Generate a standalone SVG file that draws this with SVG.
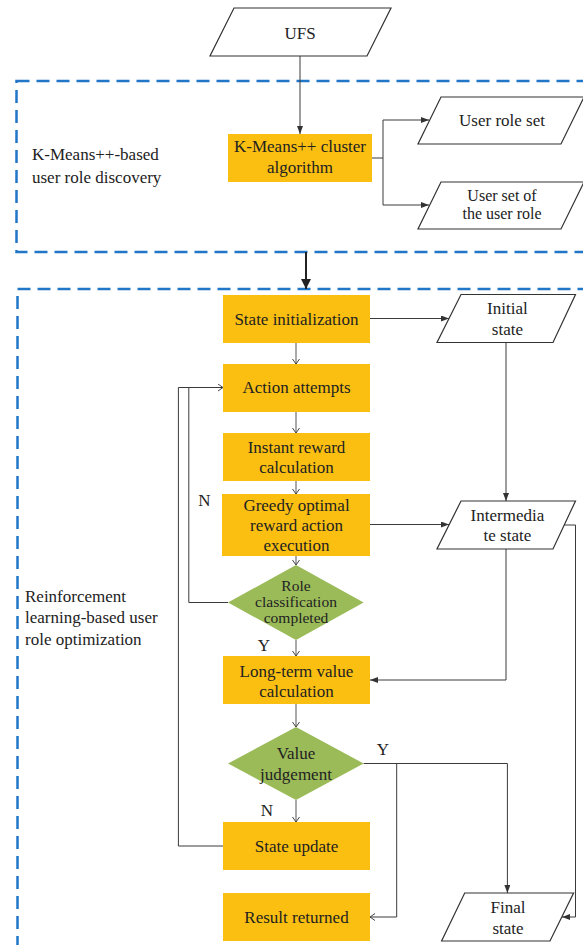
<svg xmlns="http://www.w3.org/2000/svg" width="583" height="945" viewBox="0 0 583 945" font-family="'Liberation Serif', 'DejaVu Serif', serif">
<defs>
<style>
text{font-family:"Liberation Serif","DejaVu Serif",serif;font-size:17px;fill:#222;}
.c{text-anchor:middle;}
.s{font-size:15.5px;}
.m{font-size:16px;}
.box{fill:#FABF10;}
.dia{fill:#9BBB59;}
.para{fill:#fff;stroke:#333;stroke-width:1.2;}
.dash{fill:none;stroke:#2176C7;stroke-width:2.5;stroke-dasharray:13 7;}
.ln{fill:none;stroke:#3a3a3a;stroke-width:1;}
.gl{fill:none;stroke:#707070;stroke-width:1.2;}
</style>
<marker id="fa" viewBox="0 0 8 6" refX="8" refY="3" markerWidth="8" markerHeight="6" orient="auto" markerUnits="userSpaceOnUse"><path d="M0,0 L8,3 L0,6 z" fill="#333"/></marker>
<marker id="oa" viewBox="0 0 6 8" refX="5.5" refY="4" markerWidth="6" markerHeight="8" orient="auto" markerUnits="userSpaceOnUse"><path d="M0.5,0.5 L5.5,4 L0.5,7.5" fill="none" stroke="#444" stroke-width="1"/></marker>
<marker id="big" viewBox="0 0 10 10" refX="10" refY="5" markerWidth="10" markerHeight="10" orient="auto" markerUnits="userSpaceOnUse"><path d="M0,0 L10,5 L0,10 z" fill="#222"/></marker>
</defs>
<rect width="583" height="945" fill="#fff"/>

<g id="group-discovery">
<rect class="dash" x="16.5" y="81" width="600" height="171"/>
<text x="32" y="160">K-Means++-based</text>
<text x="32" y="183">user role discovery</text>
</g>
<g id="group-optimization">
<rect class="dash" x="17.5" y="289" width="600" height="680"/>
<text x="25" y="602">Reinforcement</text>
<text x="25" y="623">learning-based user</text>
<text x="25" y="645">role optimization</text>
</g>

<g id="connectors">
<path class="ln" d="M300,56 V134" marker-end="url(#fa)"/>
<path class="ln" d="M372,158 H383 V120 H429" marker-end="url(#fa)"/>
<path class="ln" d="M383,158 V205 H429" marker-end="url(#fa)"/>
<path d="M306,252 V289" fill="none" stroke="#222" stroke-width="2" marker-end="url(#big)"/>
<path class="ln" d="M370,318.5 H449" marker-end="url(#fa)"/>
<path class="gl" d="M296,343 V364" marker-end="url(#oa)"/>
<path class="gl" d="M296,412 V433" marker-end="url(#oa)"/>
<path class="gl" d="M296,481 V494" marker-end="url(#oa)"/>
<path class="gl" d="M296,556 V565" marker-end="url(#oa)"/>
<path class="gl" d="M296,640 V656" marker-end="url(#oa)"/>
<path class="gl" d="M296,704 V727" marker-end="url(#oa)"/>
<path class="gl" d="M296,800 V822" marker-end="url(#oa)"/>
<path class="ln" d="M506,342 V501" marker-end="url(#fa)"/>
<path class="ln" d="M370,524.5 H449" marker-end="url(#fa)"/>
<path class="ln" d="M506,549 V680 H370" marker-end="url(#fa)"/>
<path class="ln" d="M564,525 H575.5 V917 H562" marker-end="url(#fa)"/>
<path class="ln" d="M228,602.5 H188.8 V387.5"/>
<path class="ln" d="M223,846 H178.4 V387.5 H223" marker-end="url(#oa)"/>
<path class="ln" d="M363.6,763.5 H507.4 V893" marker-end="url(#fa)"/>
<path class="ln" d="M396.7,763.5 V917 H370" marker-end="url(#oa)"/>
</g>

<g id="ufs">
<polygon class="para" points="234,8 391,8 367,56 210,56"/>
<text class="c" x="300" y="38.5">UFS</text>
</g>
<g id="kmeans">
<rect class="box" x="228" y="134" width="144" height="48"/>
<text class="c" x="300" y="152">K-Means++ cluster</text>
<text class="c" x="300" y="173">algorithm</text>
</g>
<g id="user-role-set">
<polygon class="para" points="441,97 584,97 561,144 418,144"/>
<text class="c" x="502" y="125.5">User role set</text>
</g>
<g id="user-set">
<polygon class="para" points="441,182 584,182 561,229 418,229"/>
<text class="c m" x="502" y="201">User set of</text>
<text class="c m" x="502" y="219">the user role</text>
</g>
<g id="state-init">
<rect class="box" x="223" y="295" width="147" height="48"/>
<text class="c" x="296.5" y="324.5">State initialization</text>
</g>
<g id="action-attempts">
<rect class="box" x="223" y="364" width="147" height="48"/>
<text class="c" x="296.5" y="393">Action attempts</text>
</g>
<g id="instant-reward">
<rect class="box" x="223" y="433" width="147" height="48"/>
<text class="c" x="296.5" y="453">Instant reward</text>
<text class="c" x="296.5" y="473">calculation</text>
</g>
<g id="greedy">
<rect class="box" x="222" y="494" width="148" height="62"/>
<text class="c" x="296.5" y="510.5">Greedy optimal</text>
<text class="c" x="296.5" y="530.5">reward action</text>
<text class="c" x="296.5" y="551">execution</text>
</g>
<g id="initial-state">
<polygon class="para" points="461,294.5 575.5,294.5 553,342.5 437,342.5"/>
<text class="c" x="507.4" y="314">Initial</text>
<text class="c" x="507.4" y="334.5">state</text>
</g>
<g id="intermediate-state">
<polygon class="para" points="461,501 575.5,501 553,549 437,549"/>
<text class="c" x="507.4" y="521">Intermedia</text>
<text class="c" x="507.4" y="541">te state</text>
</g>
<g id="role-classification">
<polygon class="dia" points="296,565 363.6,602.5 296,640 228,602.5"/>
<text class="c s" x="296" y="591">Role</text>
<text class="c s" x="296" y="607">classification</text>
<text class="c s" x="296" y="623">completed</text>
</g>
<g id="long-term">
<rect class="box" x="223" y="656" width="147" height="48"/>
<text class="c" x="296.5" y="676.5">Long-term value</text>
<text class="c" x="296.5" y="697">calculation</text>
</g>
<g id="value-judgement">
<polygon class="dia" points="296,727 363.6,763.5 296,800 228,763.5"/>
<text class="c" x="296" y="759">Value</text>
<text class="c" x="296" y="780">judgement</text>
</g>
<g id="state-update">
<rect class="box" x="223" y="822" width="147" height="48"/>
<text class="c" x="296.5" y="852">State update</text>
</g>
<g id="result-returned">
<rect class="box" x="223" y="893" width="147" height="48"/>
<text class="c" x="296.5" y="923">Result returned</text>
</g>
<g id="final-state">
<polygon class="para" points="464.7,893 573.6,893 550,941 441.6,941"/>
<text class="c" x="508" y="913">Final</text>
<text class="c" x="508" y="934">state</text>
</g>
<g id="labels">
<text class="c" x="204.5" y="506">N</text>
<text class="c" x="264" y="651">Y</text>
<text class="c" x="383" y="755">Y</text>
<text class="c" x="267" y="816">N</text>
</g>
</svg>
